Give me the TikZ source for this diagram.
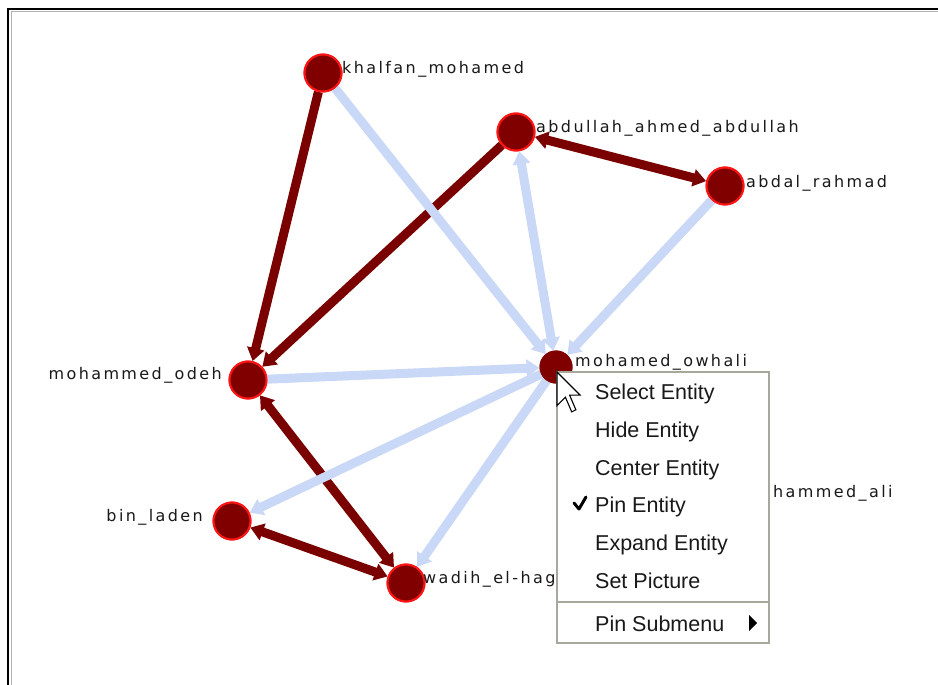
\documentclass[tikz,border=0pt]{standalone}
\usepackage{fontspec}
\setmainfont{Liberation Sans}
\newfontfamily\lblfont[LetterSpace=15]{DejaVu Sans}
\usetikzlibrary{arrows.meta}

\definecolor{edgered}{HTML}{7A0000}
\definecolor{nodefill}{HTML}{800000}
\definecolor{ringred}{HTML}{FF1414}
\definecolor{edgeblue}{HTML}{C9D8F6}
\definecolor{menuborder}{HTML}{A8A79B}

\begin{document}
\begin{tikzpicture}[x=1pt,y=-1pt,
  >={Triangle[length=13pt,width=17pt]},
  entity/.style={circle,fill=nodefill,draw=ringred,line width=2pt,
    minimum size=37pt,inner sep=0pt},
  selentity/.style={circle,fill=nodefill,draw=nodefill,line width=1pt,
    minimum size=32pt,inner sep=0pt},
  lbl/.style={inner sep=0pt,text=black!90,font=\lblfont\fontsize{16}{19}\selectfont},
  redlink/.style={draw=edgered,line width=9pt},
  bluelink/.style={draw=edgeblue,line width=9pt},
  menuitem/.style={inner sep=0pt,anchor=base west,text=black!90,
    font=\fontsize{21.5}{25}\selectfont}]

% canvas and window frame
\fill[white] (0,0) rectangle (938,685);
\useasboundingbox (0,0) rectangle (938,685);
\draw[gray!60,line width=1pt] (11,685) -- (11,12) -- (938,12);
\draw[black,line width=2pt] (8,685) -- (8,9) -- (938,9);

% entities
\node[entity] (khalfan) at (323,73) {};
\node[entity] (abdullah) at (516,132) {};
\node[entity] (abdal) at (725,186) {};
\node[entity] (odeh) at (248,380) {};
\node[selentity] (owhali) at (556,367) {};
\node[entity] (binladen) at (232,521) {};
\node[entity] (wadih) at (406,583) {};

% strong ties
\draw[redlink,->] (khalfan) -- (odeh);
\draw[redlink,->] (abdullah) -- (odeh);
\draw[redlink,<->] (abdullah) -- (abdal);
\draw[redlink,<->] (odeh) -- (wadih);
\draw[redlink,<->] (binladen) -- (wadih);

% weak ties
\draw[bluelink,->] (khalfan) -- (owhali);
\draw[bluelink,<->] (abdullah) -- (owhali);
\draw[bluelink,->] (abdal) -- (owhali);
\draw[bluelink,->] (odeh) -- (owhali);
\draw[bluelink,->] (owhali) -- (binladen);
\draw[bluelink,->] (owhali) -- (wadih);

% redraw the circles above the ties
\node[entity] at (khalfan) {};
\node[entity] at (abdullah) {};
\node[entity] at (abdal) {};
\node[entity] at (odeh) {};
\node[selentity] at (owhali) {};
\node[entity] at (binladen) {};
\node[entity] at (wadih) {};

% names
\node[lbl,anchor=base west] (lkhalfan) at (342,74) {khalfan\_mohamed};
\node[lbl,anchor=base west] (labdullah) at (536,132) {abdullah\_ahmed\_abdullah};
\node[lbl,anchor=base west] (labdal) at (746,187) {abdal\_rahmad};
\node[lbl,anchor=base east] (lodeh) at (222,379) {mohammed\_odeh};
\node[lbl,anchor=base west] (lowhali) at (575,366) {mohamed\_owhali};
\node[lbl,anchor=base east] (lbinladen) at (203,521) {bin\_laden};
\node[lbl,anchor=base west] (lwadih) at (423,583) {wadih\_el-hag};
\node[lbl,anchor=base west] (lali) at (773,497) {hammed\_ali};

% context menu
\node[draw=menuborder,fill=white,line width=1.5pt,anchor=north west,
  minimum width=212pt,minimum height=271pt,inner sep=0pt] (menu) at (556,371) {};
\draw[menuborder,line width=1.5pt] (556,602) -- (768,602);
\node[menuitem] (m1) at (595,399) {Select Entity};
\node[menuitem] (m2) at (595,437) {Hide Entity};
\node[menuitem] (m3) at (595,475) {Center Entity};
\node[menuitem] (m4) at (595,512) {Pin Entity};
\node[menuitem] (m5) at (595,550) {Expand Entity};
\node[menuitem] (m6) at (595,588) {Set Picture};
\node[menuitem] (m7) at (595,631) {Pin Submenu};
\draw[black,line width=3pt,line cap=round,line join=round]
  (574,503) -- (579,509) -- (586,497);
\fill[black] (749,615) -- (757,623) -- (749,631) -- cycle;

% mouse pointer
\begin{scope}[shift={(557,372)},scale=2.1]
  \draw[fill=white,line width=1.1pt,line join=miter]
    (0,0) -- (0,16) -- (4,12) -- (7,19) -- (9,18) -- (6,11) -- (11,11) -- cycle;
\end{scope}
\end{tikzpicture}
\end{document}
